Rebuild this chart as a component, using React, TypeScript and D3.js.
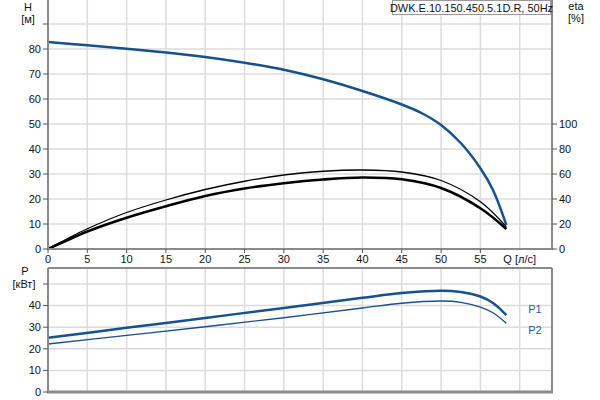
import React from "react";
import * as d3 from "d3";

// Q-H curve (Q in л/с, H in м)
const qH = [0, 5, 10, 15, 20, 25, 30, 35, 40, 45, 47.5, 50, 52.5, 55, 56.6, 58.3];
const hVals = [82.8, 81.5, 80.1, 78.6, 76.8, 74.5, 71.7, 67.9, 63.2, 57.8, 54.4, 49.6, 42.4, 32.3, 23.6, 9.6];

// efficiency curves (%)
const qEta = [0, 2.5, 5, 10, 15, 20, 25, 30, 35, 40, 45, 50, 55, 58.3];
const eta1 = [0, 8.4, 16.2, 29.2, 39.2, 47.6, 54.2, 59.2, 62.2, 63.2, 61.6, 54.8, 37.8, 17.8];
const eta2 = [0, 7.2, 14, 25, 34.2, 42.4, 48.4, 52.6, 55.6, 57.2, 55.8, 48.8, 32.6, 16];

// power curves (кВт)
const qP = [0, 10, 20, 30, 40, 45, 50, 52.5, 55, 56.6, 58.3];
const p1 = [25.1, 29.7, 34.3, 38.9, 43.6, 45.8, 46.9, 46.3, 44.2, 41.2, 35.6];
const p2 = [22.2, 26.2, 30.2, 34.4, 38.9, 41.1, 42.1, 41.5, 39.3, 36.7, 31.8];

const xTicks = [0, 5, 10, 15, 20, 25, 30, 35, 40, 45, 50, 55];
const hTicks = [0, 10, 20, 30, 40, 50, 60, 70, 80, 90];
const etaTicks = [0, 20, 40, 60, 80, 100];
const pTicks = [0, 10, 20, 30, 40, 50];

const title = "DWK.E.10.150.450.5.1D.R, 50Hz";

export default function App() {
  const left = 48;
  const right = 552;
  const x = d3.scaleLinear().domain([0, 60]).range([left, 519.7]);
  const yH = d3.scaleLinear().domain([0, 90]).range([249, 24]);
  const yEta = d3.scaleLinear().domain([0, 100]).range([249, 124]);
  const yP = d3.scaleLinear().domain([0, 50]).range([392, 284]);
  const topTop = 0;
  const botTop = 268;
  const font = "'Liberation Sans', Arial, sans-serif";
  const blue = "#17508f";
  const grid = "#dcdcdc";
  const axis = "#8a8a8a";

  const curve = d3.curveCatmullRom.alpha(0.5);
  const lineH = d3.line<number>().x((_, i) => x(qH[i])).y((d) => yH(d)).curve(curve);
  const lineE = d3.line<number>().x((_, i) => x(qEta[i])).y((d) => yEta(d)).curve(curve);
  const lineP = d3.line<number>().x((_, i) => x(qP[i])).y((d) => yP(d)).curve(curve);

  const vGrid = [5, 10, 15, 20, 25, 30, 35, 40, 45, 50, 55, 60];

  return (
    <svg width={600} height={400} style={{ position: "absolute", left: 0, top: 0, background: "#fff" }}
      fontFamily={font} fontSize={11}>
      <rect x={0} y={0} width={600} height={400} fill="#fff" />
      {/* top panel grid */}
      {hTicks.filter((t) => t > 0).map((t) => (
        <line key={"hg" + t} x1={left} x2={right} y1={yH(t)} y2={yH(t)} stroke={grid} strokeWidth={1.5} />
      ))}
      {vGrid.map((t) => (
        <line key={"vg" + t} x1={x(t)} x2={x(t)} y1={topTop} y2={249} stroke={grid} strokeWidth={1.5} />
      ))}
      {/* bottom panel grid */}
      {pTicks.filter((t) => t > 0).map((t) => (
        <line key={"pg" + t} x1={left} x2={right} y1={yP(t)} y2={yP(t)} stroke={grid} strokeWidth={1.5} />
      ))}
      {vGrid.map((t) => (
        <line key={"vg2" + t} x1={x(t)} x2={x(t)} y1={botTop} y2={392} stroke={grid} strokeWidth={1.5} />
      ))}

      {/* curves top */}
      <path d={lineE(eta1) || ""} fill="none" stroke="#000" strokeWidth={1.3} />
      <path d={lineE(eta2) || ""} fill="none" stroke="#000" strokeWidth={2.6} />
      <path d={lineH(hVals) || ""} fill="none" stroke={blue} strokeWidth={2.5} />
      {/* curves bottom */}
      <path d={lineP(p1) || ""} fill="none" stroke={blue} strokeWidth={2.5} />
      <path d={lineP(p2) || ""} fill="none" stroke={blue} strokeWidth={1.4} />

      {/* top panel axes */}
      <line x1={left} x2={left} y1={topTop} y2={250} stroke={axis} strokeWidth={2} />
      <line x1={right} x2={right} y1={topTop} y2={250} stroke={axis} strokeWidth={2} />
      <line x1={left - 1} x2={right + 1} y1={249} y2={249} stroke={axis} strokeWidth={2} />
      {hTicks.map((t) => (
        <g key={"ht" + t}>
          <line x1={left - 5} x2={left} y1={yH(t)} y2={yH(t)} stroke="#555" strokeWidth={1} />
          {t < 90 && (
            <text x={left - 7} y={yH(t)} dy="0.35em" textAnchor="end" fill="#111">{t}</text>
          )}
        </g>
      ))}
      {etaTicks.map((t) => (
        <g key={"et" + t}>
          <line x1={right} x2={right + 5} y1={yEta(t)} y2={yEta(t)} stroke="#555" strokeWidth={1} />
          <text x={right + 7} y={yEta(t)} dy="0.35em" textAnchor="start" fill="#111">{t}</text>
        </g>
      ))}
      {xTicks.map((t) => (
        <g key={"xt" + t}>
          <line x1={x(t)} x2={x(t)} y1={249} y2={253} stroke="#555" strokeWidth={1} />
          <text x={x(t)} y={259} dy="0.35em" textAnchor="middle" fill="#111">{t}</text>
        </g>
      ))}
      <text x={x(60)} y={259} dy="0.35em" textAnchor="middle" fill="#111">Q [л/с]</text>
      <text x={28} y={7} dy="0.35em" textAnchor="middle" fill="#111">H</text>
      <text x={28} y={19} dy="0.35em" textAnchor="middle" fill="#111">[м]</text>
      <text x={576} y={6} dy="0.35em" textAnchor="middle" fill="#111">eta</text>
      <text x={576} y={18} dy="0.35em" textAnchor="middle" fill="#111">[%]</text>

      {/* title box */}
      <rect x={392.5} y={0.5} width={158} height={14} fill="#fff" stroke="#999" strokeWidth={1} />
      <text x={471.5} y={8} dy="0.35em" textAnchor="middle" fill="#111">{title}</text>

      {/* bottom panel axes */}
      <line x1={left} x2={right} y1={botTop} y2={botTop} stroke={axis} strokeWidth={2} />
      <line x1={left} x2={left} y1={botTop} y2={393} stroke={axis} strokeWidth={2} />
      <line x1={right} x2={right} y1={botTop} y2={393} stroke={axis} strokeWidth={2} />
      <line x1={left - 1} x2={right + 1} y1={392} y2={392} stroke={axis} strokeWidth={3} />
      {pTicks.map((t) => (
        <g key={"pt" + t}>
          <line x1={left - 5} x2={left} y1={yP(t)} y2={yP(t)} stroke="#555" strokeWidth={1} />
          {t < 50 && (
            <text x={left - 7} y={yP(t)} dy="0.35em" textAnchor="end" fill="#111">{t}</text>
          )}
        </g>
      ))}
      <text x={25} y={271} dy="0.35em" textAnchor="middle" fill="#111">P</text>
      <text x={24} y={284} dy="0.35em" textAnchor="middle" fill="#111">[кВт]</text>
      <text x={535} y={309} dy="0.35em" textAnchor="middle" fill="#1c5fa8">P1</text>
      <text x={535} y={330} dy="0.35em" textAnchor="middle" fill="#1c5fa8">P2</text>
    </svg>
  );
}
